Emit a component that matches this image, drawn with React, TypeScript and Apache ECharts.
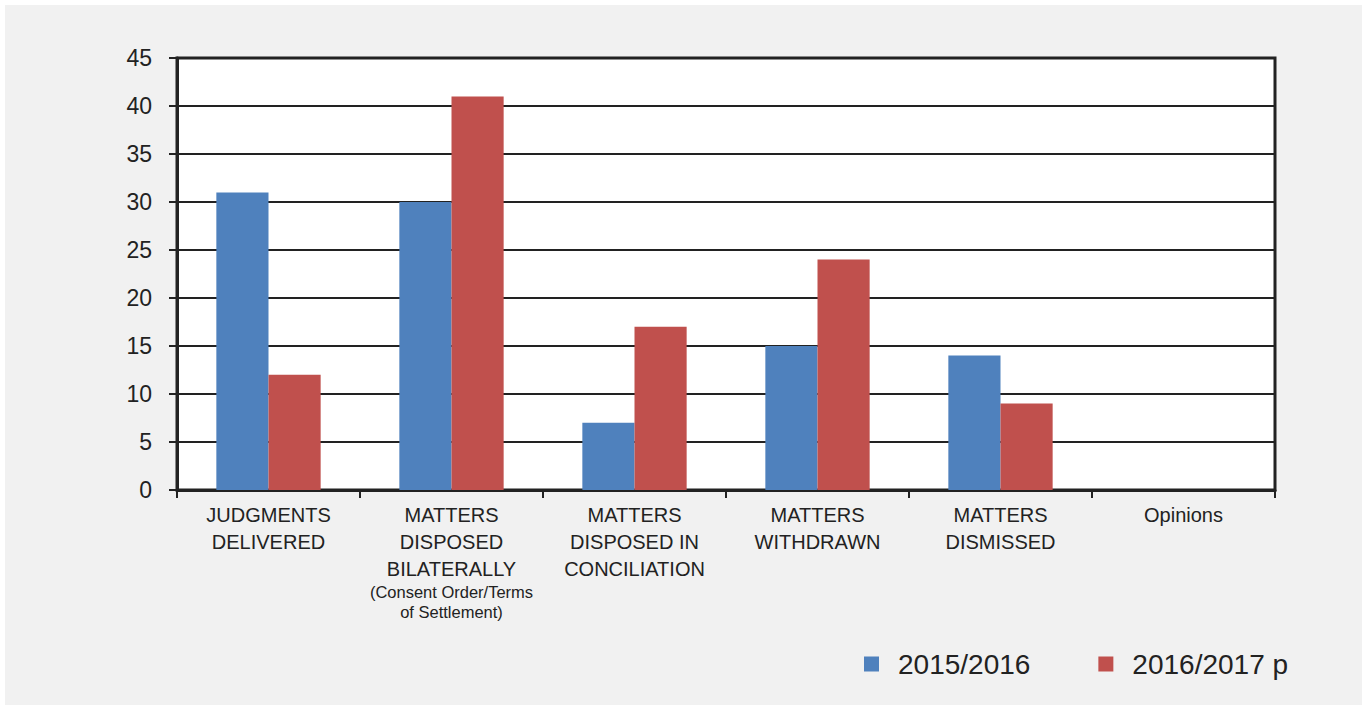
import React, { useEffect, useRef } from "react";
import * as echarts from "echarts";

const categories = [
  "JUDGMENTS\nDELIVERED",
  "MATTERS\nDISPOSED\nBILATERALLY\n{s|(Consent Order/Terms}\n{s|of Settlement)}",
  "MATTERS\nDISPOSED IN\nCONCILIATION",
  "MATTERS\nWITHDRAWN",
  "MATTERS\nDISMISSED",
  "Opinions",
];
const series2015 = [31, 30, 7, 15, 14, 0];
const series2016 = [12, 41, 17, 24, 9, 0];
const seriesNames = ["2015/2016", "2016/2017 p"];
const colors = ["#4f81bd", "#c0504d"];

export default function App() {
  const ref = useRef<HTMLDivElement>(null);
  useEffect(() => {
    if (!ref.current) return;
    const chart = echarts.init(ref.current, null, { renderer: "svg" });
    const font = "'Liberation Sans', Arial, sans-serif";
    chart.setOption({
      animation: false,
      backgroundColor: "transparent",
      textStyle: { fontFamily: font, color: "#222" },
      grid: {
        left: 172,
        right: 87,
        top: 53,
        bottom: 215,
        show: true,
        backgroundColor: "#ffffff",
        borderColor: "#222",
        borderWidth: 3,
        containLabel: false,
      },
      legend: {
        left: 859,
        top: 645,
        padding: 0,
        icon: "rect",
        itemWidth: 15,
        itemHeight: 15,
        itemGap: 68,
        textStyle: { fontSize: 28, color: "#222", fontFamily: font, padding: [0, 0, 0, 14] },
        data: seriesNames,
      },
      xAxis: {
        type: "category",
        data: categories,
        axisLine: { show: true, lineStyle: { color: "#222", width: 3 } },
        axisTick: { show: true, length: 8, lineStyle: { color: "#222", width: 2 } },
        axisLabel: {
          interval: 0,
          margin: 11,
          fontSize: 20,
          lineHeight: 27,
          color: "#222",
          fontFamily: font,
          align: "center",
          rich: {
            s: { fontSize: 16.5, lineHeight: 20, color: "#222", fontFamily: font },
          },
        },
      },
      yAxis: {
        type: "value",
        min: 0,
        max: 45,
        interval: 5,
        axisLine: { show: true, lineStyle: { color: "#222", width: 3 } },
        axisTick: { show: true, length: 8, lineStyle: { color: "#222", width: 2 } },
        axisLabel: { fontSize: 23, color: "#222", margin: 25, fontFamily: font },
        splitLine: { show: true, lineStyle: { color: "#222", width: 2 } },
      },
      series: [
        {
          name: seriesNames[0],
          type: "bar",
          data: series2015,
          itemStyle: { color: colors[0] },
          barGap: "0%",
          barCategoryGap: "43%",
        },
        {
          name: seriesNames[1],
          type: "bar",
          data: series2016,
          itemStyle: { color: colors[1] },
          barGap: "0%",
          barCategoryGap: "43%",
        },
      ],
    });
    return () => chart.dispose();
  }, []);
  return (
    <div
      style={{
        position: "fixed",
        left: 0,
        top: 0,
        width: 1367,
        height: 710,
        background: "#ffffff",
      }}
    >
      <div
        style={{
          position: "absolute",
          left: 5,
          top: 5,
          width: 1357,
          height: 700,
          background: "#f1f1f1",
        }}
      >
        <div ref={ref} style={{ width: 1357, height: 700 }} />
      </div>
    </div>
  );
}
